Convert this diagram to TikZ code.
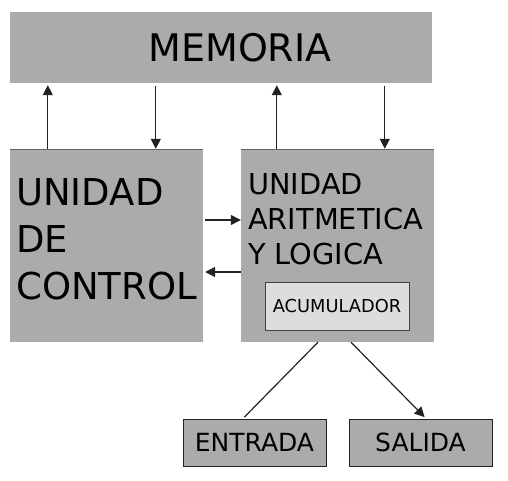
\documentclass[tikz,border=0pt]{standalone}
\usepackage{fontspec}
\setmainfont{DejaVu Sans}
\usetikzlibrary{arrows.meta}
\definecolor{caja}{HTML}{ABABAB}
\definecolor{cajaclara}{HTML}{DDDDDD}
\definecolor{linea}{HTML}{222222}
\tikzset{
  bloque/.style={rectangle, fill=caja, inner sep=0pt},
  borde/.style={draw=linea, line width=1pt},
  texto/.style={anchor=north west, inner sep=0pt, align=left},
  flecha/.style={draw=linea, line width=1.2pt, -{Triangle[length=10pt,width=10pt]}},
}
\begin{document}
\begin{tikzpicture}[x=1pt,y=-1pt]
\useasboundingbox (0,0) rectangle (508,480);

\node[bloque, minimum width=422pt, minimum height=71pt, font=\fontsize{38}{38}\selectfont] (memoria) at (221,47.5) {\hspace*{38pt}MEMORIA};

\node[bloque, minimum width=193pt, minimum height=193pt] (control) at (106.5,245.5) {};
\node[bloque, minimum width=193pt, minimum height=193pt] (alu) at (337.5,245.5) {};
\draw[linea!70] (control.north west) -- (control.north east);
\draw[linea!70] (alu.north west) -- (alu.north east);

\node[texto, font=\fontsize{37}{47}\selectfont] (controltexto) at (16,178) {UNIDAD\\DE\\CONTROL};
\node[texto, font=\fontsize{28.8}{35}\selectfont] (alutexto) at (248,173) {UNIDAD\\ARITMETICA\\Y LOGICA};

\node[rectangle, fill=cajaclara, draw=linea!85, line width=1pt, minimum width=144pt, minimum height=48pt, font=\fontsize{17.8}{20}\selectfont] (acumulador) at (337,306) {ACUMULADOR};

\node[bloque, borde, minimum width=143pt, minimum height=47pt, font=\fontsize{25}{30}\selectfont] (entrada) at (254.5,442.5) {ENTRADA};
\node[bloque, borde, minimum width=143pt, minimum height=47pt, font=\fontsize{25}{30}\selectfont] (salida) at (420.5,442.5) {SALIDA};

% memoria <-> unidades
\draw[flecha, shorten >=2pt] ([xshift=38pt]control.north west) -- ([xshift=38pt]control.north west |- memoria.south);
\draw[flecha, shorten <=3pt] ([xshift=146pt]control.north west |- memoria.south) -- ([xshift=146pt]control.north west);
\draw[flecha, shorten >=2pt] ([xshift=36pt]alu.north west) -- ([xshift=36pt]alu.north west |- memoria.south);
\draw[flecha, shorten <=3pt] ([xshift=144pt]alu.north west |- memoria.south) -- ([xshift=144pt]alu.north west);

% control <-> alu
\draw[flecha, shorten <=2pt] ([yshift=25.5pt]control.east) -- ([yshift=25.5pt]alu.west);
\draw[flecha, shorten >=2pt] ([yshift=-26.5pt]alu.west) -- ([yshift=-26.5pt]control.east);

% entrada y salida
\draw[linea, line width=1.2pt, shorten >=2pt] ([xshift=-19.5pt]alu.south) -- ([xshift=-11.5pt]entrada.north);
\draw[flecha, shorten >=2pt] ([xshift=13.5pt]alu.south) -- ([xshift=5.5pt]salida.north);
\end{tikzpicture}
\end{document}
